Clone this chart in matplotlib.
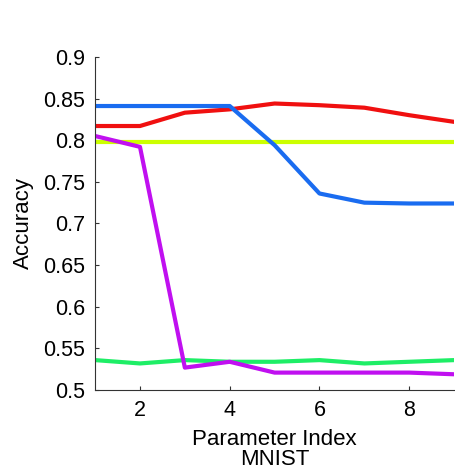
import matplotlib
matplotlib.use("Agg")
import matplotlib.pyplot as plt
from matplotlib.ticker import FuncFormatter

plt.rcParams['font.family'] = ['Liberation Sans', 'DejaVu Sans']

# parameter index 1..9
param_idx = [1, 2, 3, 4, 5, 6, 7, 8, 9]

acc_red = [0.817, 0.817, 0.833, 0.837, 0.844, 0.842, 0.839, 0.830, 0.822]
acc_blue = [0.841, 0.841, 0.841, 0.841, 0.794, 0.736, 0.725, 0.724, 0.724]
acc_yellow = [0.798, 0.798, 0.798, 0.798, 0.798, 0.798, 0.798, 0.798, 0.798]
acc_purple = [0.805, 0.792, 0.527, 0.534, 0.521, 0.521, 0.521, 0.521, 0.519]
acc_green = [0.536, 0.532, 0.536, 0.534, 0.534, 0.536, 0.532, 0.534, 0.536]

y_ticks = [0.5, 0.55, 0.6, 0.65, 0.7, 0.75, 0.8, 0.85, 0.9]
x_ticks = [2, 4, 6, 8]

fig = plt.figure(figsize=(4.55, 4.70), dpi=100)
ax = fig.add_axes([0.209, 0.170, 0.789, 0.709])

lw = 3.0
ax.plot(param_idx, acc_green, color='#1eee66', lw=lw)
ax.plot(param_idx, acc_yellow, color='#ccff00', lw=lw)
ax.plot(param_idx, acc_red, color='#f01010', lw=lw)
ax.plot(param_idx, acc_blue, color='#1a6cf0', lw=lw)
ax.plot(param_idx, acc_purple, color='#c010f0', lw=lw)

ax.set_xlim(1, 9)
ax.set_ylim(0.5, 0.9)
ax.set_xticks(x_ticks)
ax.set_yticks(y_ticks)
ax.yaxis.set_major_formatter(FuncFormatter(lambda v, p: f"{v:g}"))

for s in ['top', 'right']:
    ax.spines[s].set_visible(False)
for s in ['left', 'bottom']:
    ax.spines[s].set_color('#333333')
    ax.spines[s].set_linewidth(0.8)

ax.tick_params(direction='in', length=3, width=0.8, color='#333333',
               labelsize=15.5, pad=7)

ax.set_ylabel('Accuracy', fontsize=16, labelpad=7)
ax.set_xlabel('Parameter Index\nMNIST', fontsize=16, labelpad=6, linespacing=0.92)

fig.savefig('out.png', dpi=100)
